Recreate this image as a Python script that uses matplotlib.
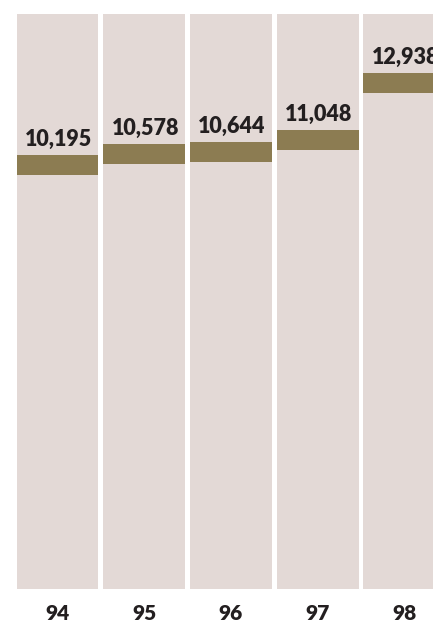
import matplotlib.pyplot as plt

# Average value per year
years = ['94', '95', '96', '97', '98']
values = [10195, 10578, 10644, 11048, 12938]

col_color = '#e3d9d6'
band_color = '#8c7c52'
text_color = '#231f20'

# value range covered by the pale columns
y_min, y_max = -4018, 15258
band_h = 670

plt.rcParams['font.family'] = ['Lato', 'DejaVu Sans']

fig = plt.figure(figsize=(4.33, 6.23), dpi=100)
ax = fig.add_axes([0, 34 / 623, 1, 575 / 623])
ax.set_xlim(-0.663, 4.331)
ax.set_ylim(y_min, y_max)
ax.axis('off')

x = range(len(years))

# Pale background column for every year
ax.bar(x, y_max - y_min, bottom=y_min, width=0.945, color=col_color, linewidth=0)

# Thin band marking the value
ax.bar(x, band_h, bottom=[v - band_h / 2 for v in values], width=0.945,
       color=band_color, linewidth=0)

for i, v in enumerate(values):
    ax.annotate(f'{v:,}', (i, v), xytext=(1, 19), textcoords='offset pixels',
                ha='center', va='baseline', fontsize=15.5, fontweight='heavy',
                color=text_color, annotation_clip=False)
    ax.text(i, -31 / 575, years[i], transform=ax.get_xaxis_transform(),
            ha='center', va='baseline', fontsize=15, fontweight='heavy',
            color=text_color)

fig.savefig('out.png', dpi=100)
